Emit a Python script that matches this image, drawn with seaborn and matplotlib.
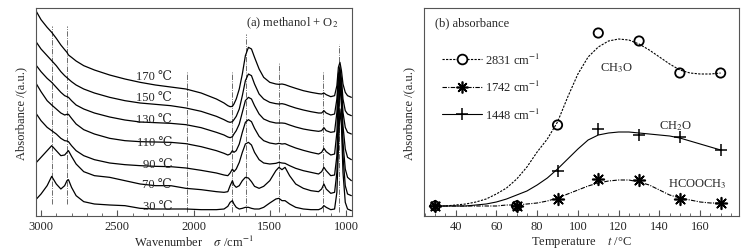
import numpy as np
import pandas as pd
import seaborn as sns
import matplotlib.pyplot as plt
from matplotlib.lines import Line2D
from matplotlib.ticker import MultipleLocator

sns.set_style("white")
plt.rcParams['font.family'] = ['Liberation Serif', 'DejaVu Serif']
plt.rcParams['mathtext.fontset'] = 'stix'
plt.rcParams['font.size'] = 9

# ---- (a) in-situ IR spectra, methanol + O2 ----
wavenumber = [3030, 3000, 2960, 2930, 2900, 2870, 2845, 2830, 2820, 2800,
              2770, 2720, 2650, 2550, 2450, 2350, 2250, 2150, 2050, 1950,
              1850, 1800, 1775, 1760, 1745, 1735, 1720, 1700, 1680, 1660,
              1640, 1620, 1600, 1570, 1540, 1500, 1460, 1440, 1420, 1400,
              1370, 1330, 1280, 1230, 1180, 1160, 1145, 1130, 1100, 1075,
              1060, 1050, 1040, 1030, 1020, 1005, 990, 965]

spec_170 = [6.13, 5.89, 5.66, 5.51, 5.33, 5.13, 4.99, 4.91, 4.83, 4.76,
            4.65, 4.51, 4.38, 4.23, 4.11, 4.01, 3.93, 3.87, 3.81, 3.69,
            3.51, 3.39, 3.31, 3.28, 3.29, 3.36, 3.51, 3.81, 4.26, 4.81,
            5.06, 5.01, 4.76, 4.41, 4.16, 4.01, 3.96, 3.95, 3.96, 3.94,
            3.89, 3.83, 3.76, 3.71, 3.67, 3.66, 3.69, 3.64, 3.58, 3.61,
            3.91, 4.46, 4.61, 4.36, 3.96, 3.71, 3.61, 3.56]
spec_150 = [5.21, 5.01, 4.81, 4.66, 4.51, 4.33, 4.21, 4.15, 4.11, 4.03,
            3.93, 3.81, 3.69, 3.56, 3.46, 3.39, 3.35, 3.31, 3.24, 3.14,
            2.99, 2.89, 2.83, 2.81, 2.83, 2.89, 2.99, 3.21, 3.61, 4.06,
            4.26, 4.21, 3.96, 3.66, 3.51, 3.41, 3.37, 3.36, 3.37, 3.35,
            3.30, 3.24, 3.18, 3.13, 3.09, 3.09, 3.16, 3.09, 3.03, 3.06,
            3.51, 4.26, 4.46, 4.11, 3.51, 3.16, 3.06, 3.01]
spec_130 = [4.51, 4.33, 4.13, 4.01, 3.86, 3.71, 3.61, 3.58, 3.56, 3.46,
            3.33, 3.21, 3.09, 2.97, 2.88, 2.82, 2.80, 2.78, 2.74, 2.65,
            2.51, 2.43, 2.37, 2.35, 2.38, 2.46, 2.56, 2.76, 3.11, 3.46,
            3.56, 3.51, 3.31, 3.06, 2.91, 2.83, 2.79, 2.79, 2.79, 2.78,
            2.73, 2.67, 2.61, 2.57, 2.54, 2.56, 2.65, 2.56, 2.51, 2.53,
            3.11, 4.11, 4.36, 3.91, 3.11, 2.66, 2.51, 2.46]
spec_110 = [3.96, 3.73, 3.46, 3.33, 3.21, 3.09, 3.03, 3.05, 3.05, 2.93,
            2.76, 2.59, 2.46, 2.33, 2.26, 2.23, 2.22, 2.21, 2.17, 2.08,
            1.96, 1.88, 1.83, 1.86, 1.96, 1.91, 1.96, 2.16, 2.51, 2.81,
            2.89, 2.83, 2.63, 2.39, 2.26, 2.19, 2.16, 2.18, 2.16, 2.17,
            2.11, 2.04, 1.97, 1.91, 1.86, 1.91, 2.03, 1.93, 1.83, 1.86,
            2.51, 3.81, 4.26, 3.71, 2.71, 2.01, 1.76, 1.69]
spec_90 = [3.06, 2.86, 2.66, 2.56, 2.46, 2.33, 2.26, 2.25, 2.23, 2.11,
           1.96, 1.81, 1.69, 1.59, 1.54, 1.51, 1.49, 1.48, 1.44, 1.37,
           1.29, 1.23, 1.21, 1.29, 1.41, 1.33, 1.41, 1.61, 1.91, 2.16,
           2.21, 2.13, 1.91, 1.69, 1.59, 1.56, 1.58, 1.61, 1.59, 1.58,
           1.51, 1.43, 1.36, 1.31, 1.26, 1.33, 1.46, 1.36, 1.21, 1.23,
           1.81, 3.21, 4.16, 3.51, 2.21, 1.41, 1.16, 1.06]
spec_70 = [1.61, 1.76, 1.96, 2.11, 1.96, 1.81, 1.83, 1.91, 1.96, 1.79,
           1.56, 1.33, 1.21, 1.16, 1.06, 0.96, 0.91, 0.91, 0.83, 0.79,
           0.73, 0.71, 0.73, 0.91, 1.06, 0.93, 0.86, 0.91, 1.06, 1.16,
           1.14, 1.03, 0.89, 0.83, 0.89, 1.06, 1.36, 1.46, 1.39, 1.46,
           1.21, 0.96, 0.83, 0.76, 0.73, 0.81, 0.96, 0.81, 0.68, 0.71,
           1.31, 2.71, 4.01, 3.31, 1.81, 0.91, 0.66, 0.61]
spec_30 = [0.51, 0.66, 0.91, 1.19, 0.96, 0.81, 0.91, 1.06, 1.09, 0.86,
           0.61, 0.43, 0.36, 0.33, 0.31, 0.23, 0.21, 0.21, 0.21, 0.19,
           0.19, 0.21, 0.29, 0.41, 0.46, 0.36, 0.26, 0.21, 0.23, 0.26,
           0.26, 0.23, 0.21, 0.21, 0.26, 0.39, 0.51, 0.53, 0.46, 0.46,
           0.36, 0.26, 0.21, 0.19, 0.19, 0.23, 0.31, 0.26, 0.19, 0.21,
           0.71, 2.01, 3.21, 2.71, 1.31, 0.41, 0.21, 0.16]

spectra = {"170 ℃": spec_170, "150 ℃": spec_150, "130 ℃": spec_130,
           "110 ℃": spec_110, "90 ℃": spec_90, "70 ℃": spec_70, "30 ℃": spec_30}
label_y = [4.21, 3.56, 2.91, 2.21, 1.56, 0.96, 0.31]

band_pos = [2930, 2831, 2045, 1750, 1655, 1440, 1150, 1045]
band_top = [5.71, 5.71, 4.33, 4.33, 5.46, 4.61, 4.33, 5.16]
band_bot = [0.36, 0.36, 0.11, 0.11, 0.11, 0.11, 0.11, 0.11]

# ---- (b) band intensity vs temperature ----
temp = [30, 70, 90, 110, 130, 150, 170]
a_2831 = [0, 0, 81, 173, 165, 133, 133]
a_1742 = [0, 0, 7, 27, 26, 7, 3]
a_1448 = [0, 0, 35, 77, 71, 69, 56]

fit_t = list(range(30, 175, 5))
fit_2831 = [0, 0, 1, 2, 4, 7, 12, 18, 27, 39, 54, 67, 84, 109, 132, 149, 159,
            165, 167, 166, 162, 156, 149, 142, 136, 133, 132, 132, 133]
fit_1742 = [0, 0, 0, 0, 0, 0, 0, 1, 1, 2, 3, 5, 8, 12, 16, 20, 23, 25, 26, 26,
            24, 21, 16, 11, 8, 6, 4, 3, 3]
fit_1448 = [0, 0, 0, 0, 1, 2, 4, 7, 11, 15, 21, 28, 37, 47, 57, 66, 71, 73, 74,
            74, 73, 72, 71, 70, 68, 65, 62, 59, 56]

fig = plt.figure(figsize=(7.5, 2.53), dpi=100)
ax1 = fig.add_axes([0.048, 0.1423, 0.4213, 0.8221])
ax2 = fig.add_axes([0.5653, 0.1423, 0.42, 0.8221])

spine_c = "#555555"

# left panel
ax1.vlines(band_pos, band_bot, band_top, colors="#555555", linestyles="dashdot", lw=0.6)
for (name, vals), ly in zip(spectra.items(), label_y):
    sns.lineplot(x=wavenumber, y=vals, ax=ax1, color="black", lw=0.9, sort=False)
    ax1.text(2140, ly, name, ha="right", va="center", fontsize=9)
ax1.text(0.956, 0.933, "(a) methanol + O$_2$", transform=ax1.transAxes,
         ha="right", va="center", fontsize=9)
ax1.set_xlim(3033, 961)
ax1.set_ylim(0, 6.24)
ax1.set_yticks([])
ax1.xaxis.set_major_locator(MultipleLocator(500))
ax1.xaxis.set_minor_locator(MultipleLocator(100))
ax1.set_xlabel("Wavenumber    $\\sigma$ /cm$^{-1}$", labelpad=1)
ax1.set_ylabel("Absorbance /(a.u.)", labelpad=6)

# right panel
styles = [("2831 cm$^{-1}$", a_2831, fit_2831, (0, (2, 1.2)), "o"),
          ("1742 cm$^{-1}$", a_1742, fit_1742, (0, (4, 1.2, 1, 1.2)), (8, 2, 0)),
          ("1448 cm$^{-1}$", a_1448, fit_1448, "-", "+")]
handles = []
for lab, pts, fit, ls, mk in styles:
    sns.lineplot(x=fit_t, y=fit, ax=ax2, color="black", lw=0.8, linestyle=ls)
    if mk == "o":
        sns.scatterplot(x=temp, y=pts, ax=ax2, marker="o", s=45,
                        facecolors="none", edgecolor="black", linewidth=1.3, zorder=3)
        h = Line2D([], [], color="black", lw=0.8, ls=ls, marker="o", ms=7,
                   mfc="white", mec="black", mew=1.3)
    elif mk == "+":
        sns.scatterplot(x=temp, y=pts, ax=ax2, marker="+", s=80,
                        color="black", linewidth=1.1, zorder=3)
        h = Line2D([], [], color="black", lw=0.8, ls=ls, marker="+", ms=9, mew=1.1)
    else:
        sns.scatterplot(x=temp, y=pts, ax=ax2, marker=mk, s=70,
                        color="black", linewidth=1.2, zorder=3)
        h = Line2D([], [], color="black", lw=0.8, ls=ls, marker=mk, ms=8.5, mew=1.2)
    handles.append((h, lab))

ax2.legend([h for h, _ in handles], [l for _, l in handles], loc="upper left",
           bbox_to_anchor=(0.02, 0.845), frameon=False, handlelength=3.2,
           handletextpad=0.3, labelspacing=1.0, fontsize=9)
ax2.text(0.035, 0.933, "(b) absorbance", transform=ax2.transAxes, ha="left",
         va="center", fontsize=9)
ax2.text(111, 139, "CH$_3$O", ha="left", va="center", fontsize=9)
ax2.text(140, 81, "CH$_2$O", ha="left", va="center", fontsize=9)
ax2.text(144, 23, "HCOOCH$_3$", ha="left", va="center", fontsize=9)
ax2.set_xlim(24.5, 179)
ax2.set_ylim(-10, 198)
ax2.set_yticks([])
ax2.xaxis.set_major_locator(MultipleLocator(20))
ax2.xaxis.set_minor_locator(MultipleLocator(5))
ax2.set_xlabel("Temperature    $t$ /°C", labelpad=1)
ax2.set_ylabel("Absorbance /(a.u.)", labelpad=6)

for ax in (ax1, ax2):
    for sp in ax.spines.values():
        sp.set_color(spine_c)
        sp.set_linewidth(0.8)
    ax.tick_params(axis="x", which="both", direction="in", bottom=True,
                   top=False, color=spine_c, pad=3)
    ax.tick_params(axis="x", which="major", length=4)
    ax.tick_params(axis="x", which="minor", length=2)

fig.savefig("out.png", dpi=100)
